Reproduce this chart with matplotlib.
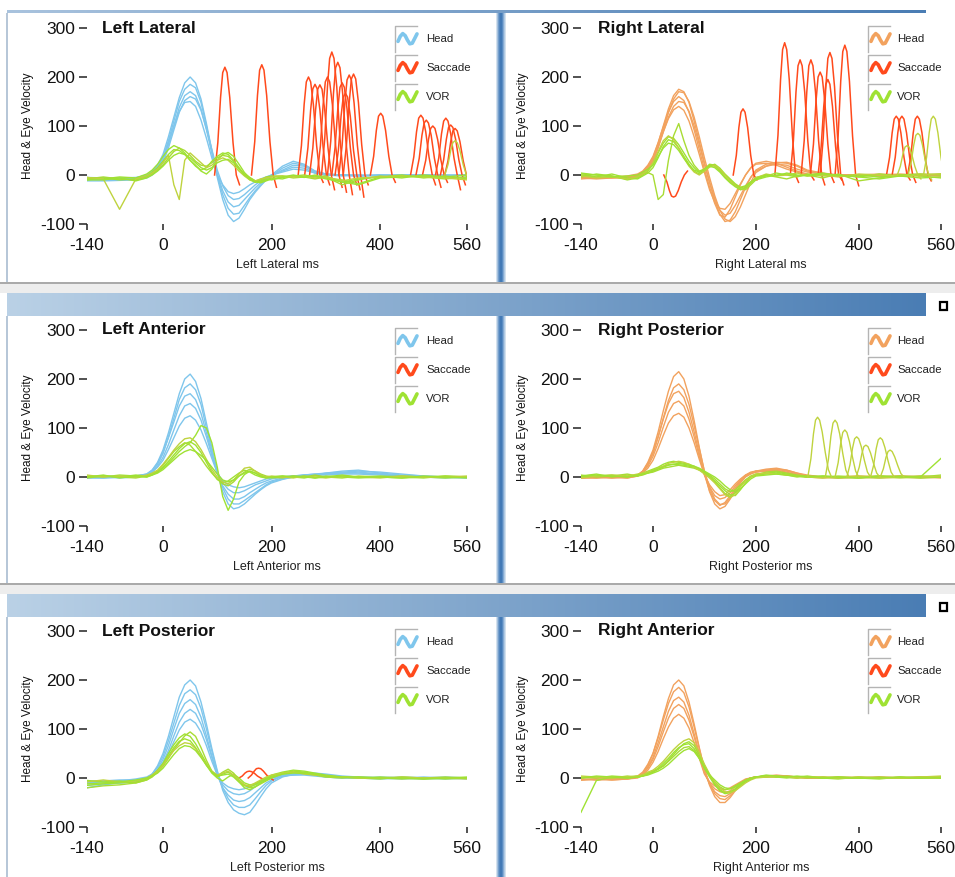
import numpy as np
import matplotlib
matplotlib.use("Agg")
import matplotlib.pyplot as plt
from matplotlib.patches import Rectangle

plt.rcParams['font.family'] = ['Liberation Sans', 'DejaVu Sans']
plt.rcParams['axes.unicode_minus'] = False

W, H = 955, 877

# ---------------- data ----------------
T_MS = [-140, -110, -80, -50, -30, -20, -10, 0, 10, 20, 30, 40, 50, 60, 70, 80, 90, 100,
        110, 120, 130, 140, 150, 160, 170, 180, 190, 200,
        220, 240, 260, 280, 300, 330, 360, 400, 440, 480, 520, 560]
SAC_DT = [0, 6, 11, 15, 19, 23, 28, 34, 40, 46]
X_TICKS = [-140, 0, 200, 400, 560]
Y_TICKS = [-100, 0, 100, 200, 300]
LEGEND_LABELS = ["Head", "Saccade", "VOR"]
TITLES = ["Left Lateral", "Right Lateral", "Left Anterior", "Right Posterior", "Left Posterior", "Right Anterior"]
XLABELS = ["Left Lateral ms", "Right Lateral ms", "Left Anterior ms", "Right Posterior ms", "Left Posterior ms", "Right Anterior ms"]

# Left Lateral
LL_HEAD = [
    [-8,-8,-9,-6,0,8,20, 42,78,118,158,188,200,188,155,105,50,-5, -50,-82,-95,-88,-70,-50,-35,-22,-10,0, 18,28,22,8,2,0,-2,0,-2,0,-2,0],
    [-10,-10,-9,-8,-2,5,16, 35,70,110,150,175,185,178,148,100,48,0, -40,-68,-80,-78,-62,-46,-32,-20,-10,-2, 14,24,20,8,2,0,-2,0,0,-2,0,0],
    [-6,-7,-8,-7,-3,4,14, 30,62,100,138,162,170,162,135,92,45,2, -32,-55,-65,-62,-50,-38,-26,-16,-8,-2, 10,20,18,6,0,-2,0,-2,0,0,-2,0],
    [-12,-12,-11,-10,-6,0,10, 25,55,92,128,152,160,155,132,95,52,10, -22,-42,-50,-48,-40,-30,-20,-12,-6,0, 8,16,14,4,0,0,-2,0,-2,0,0,-2],
    [-5,-6,-6,-5,-1,6,18, 36,66,100,130,148,150,140,112,75,35,0, -20,-34,-38,-35,-28,-20,-14,-8,-4,0, 6,12,10,4,0,0,0,-2,0,0,-2,0],
]
LL_VOR = [
    [-5,-8,-4,-6,2,10,22, 38,52,60,55,45,30,18,10,15,28,38, 45,42,30,15,0,-10,-15,-12,-8,-10, -5,-2,0,-4,-2,-15,-8,-4,0,-6,-2,-8],
    [-10,-6,-10,-8,-2,6,15, 28,42,52,50,42,30,20,8,2,12,30, 42,46,38,22,5,-6,-12,-14,-10,-6, -8,-2,-5,0,-6,-10,-18,-4,-2,-4,-8,-4],
    [-8,-4,-8,-10,-4,2,10, 20,35,48,55,50,40,28,20,18,25,35, 40,38,28,14,2,-5,-12,-10,-4,-2, -2,-6,-4,-8,-4,-20,-10,-2,-6,0,-4,-6],
    [-5,-8,-70,-8,-2,4,12, 25,40,-20,-50,30,45,35,25,15,20,30, 35,30,20,8,-2,-10,-12,-8,-6,-4, -2,-4,-2,-6,-4,-12,-6,-4,-2,-4,-6,-10],
    [-10,-10,-6,-12,-6,0,8, 18,30,40,45,42,35,25,15,10,15,25, 30,32,25,12,0,-8,-14,-16,-12,-8, -4,0,-4,-2,-8,-14,-20,-6,-4,-2,-4,0],
]
LL_SAC_ONSET = [95, 163, 249, 261, 270, 284, 292, 303, 311, 317, 324, 332, 382, 456, 466, 478, 502, 511, 519]
LL_SAC_VALS = [
    [0,66,158,209,220,209,158,66,0,-20], [0,68,162,214,225,214,162,68,0,-25],
    [0,60,144,190,200,190,144,60,0,-15], [0,56,133,176,185,176,133,56,0,-20],
    [0,55,132,175,184,175,132,55,0,-30], [0,60,144,190,200,190,144,60,0,-25],
    [0,75,181,238,251,238,181,75,0,-35], [0,69,166,219,230,219,166,69,0,-40],
    [0,56,135,179,188,179,135,56,0,-20], [0,50,120,159,167,159,120,50,0,-30],
    [0,61,147,194,204,194,147,61,0,-45], [0,62,148,196,206,196,148,62,0,-20],
    [0,38,91,120,126,120,91,38,0,-15], [0,37,88,116,122,116,88,37,0,-20],
    [0,34,81,106,112,106,81,34,0,-25], [0,30,72,95,100,95,72,30,0,-15],
    [0,35,84,110,116,110,84,35,0,-30], [0,31,73,97,102,97,73,31,0,-20],
    [0,29,68,90,95,90,68,29,0,-25],
]
LL_VSAC_ONSET = [519]
LL_VSAC_VALS = [[0,21,50,66,70,66,50,21,0,-10]]

# Right Lateral
RL_HEAD = [
    [-5,-4,-6,-4,0,6,18, 35,65,100,135,162,175,170,148,110,68,25, -15,-52,-80,-95,-92,-75,-50,-25,-5,10, 22,26,24,18,8,2,0,-2,0,2,0,-2],
    [-8,-6,-5,-6,-2,4,14, 30,58,92,128,155,170,168,150,118,78,35, -5,-42,-72,-90,-95,-85,-65,-40,-15,5, 18,25,26,20,10,4,0,0,-2,0,2,0],
    [-4,-6,-4,-2,2,8,20, 38,66,98,128,150,160,152,128,92,52,12, -25,-58,-82,-86,-70,-45,-20,0,15,24, 28,24,16,8,2,0,-2,0,0,-2,0,2],
    [-6,-8,-6,-4,-2,4,14, 28,55,88,118,140,150,148,130,100,62,22, -15,-48,-72,-82,-78,-62,-42,-22,-5,8, 18,22,20,12,6,2,0,0,-2,0,0,-2],
    [-3,-5,-4,-4,0,6,16, 32,58,88,115,133,140,132,110,78,42,5, -30,-55,-68,-70,-58,-38,-18,0,14,22, 24,20,12,6,0,0,-2,0,2,0,-2,0],
]
RL_VOR = [
    [0,-4,2,-6,-8,-2,4, 15,35,58,72,68,55,38,22,8,2,8, 18,22,14,2,-8,-18,-25,-22,-14,-8, -2,4,0,-4,2,-2,0,-4,2,-2,0,2],
    [-4,2,-2,-10,-6,0,8, 22,45,65,78,75,62,45,28,15,5,10, 20,18,8,-4,-14,-22,-28,-30,-20,-10, -4,0,2,-2,0,4,-2,0,-4,0,2,0],
    [2,0,-2,-8,-4,2,5, 0,-50,-40,30,80,105,70,40,20,8,12, 22,20,10,0,-10,-20,-26,-24,-15,-5, 0,-4,-8,-2,0,-6,2,-12,-6,0,-2,-6],
    [-2,-6,-4,-8,-4,2,10, 25,48,70,80,72,55,35,18,6,0,8, 16,20,12,0,-12,-22,-30,-28,-18,-6, 2,-2,0,4,-2,0,-4,2,0,-2,0,2],
    [4,0,-4,-2,0,6,12, 20,38,55,65,62,50,34,20,10,6,12, 18,15,6,-6,-16,-24,-30,-26,-16,-8, 0,-2,4,0,-2,2,0,-4,-8,-2,-6,-4],
]
RL_SAC_ONSET = [21, 156, 237, 267, 288, 306, 321, 325, 354, 454, 465, 495]
RL_SAC_VALS = [
    [0,-14,-32,-43,-45,-43,-32,-14,0,8], [0,40,97,128,135,128,97,40,0,-10],
    [0,81,194,256,270,256,194,81,0,-15], [0,70,169,223,235,223,169,70,0,-10],
    [0,70,169,223,235,223,169,70,0,-20], [0,63,151,200,210,200,151,63,0,-15],
    [0,58,140,185,195,185,140,58,0,-10], [0,75,180,238,250,238,180,75,0,-20],
    [0,80,191,252,265,252,191,80,0,-22], [0,36,86,114,120,114,86,36,0,-10],
    [0,36,86,114,120,114,86,36,0,-15], [0,36,86,114,120,114,86,36,0,-12],
]
RL_VSAC_ONSET = [475, 496, 526]
RL_VSAC_VALS = [[0,18,43,57,60,57,43,18,0,-8], [0,26,61,81,85,81,61,26,0,-10], [0,36,86,114,120,114,86,36,0,-10]]

# Left Anterior
LA_HEAD = [
    [0,-2,0,2,6,14,30, 55,90,130,170,200,210,195,160,110,60,10, -30,-55,-65,-62,-55,-45,-35,-26,-18,-12, -5,0,4,6,8,10,12,10,6,2,0,-2],
    [-2,-2,0,0,4,12,26, 48,82,120,158,182,190,178,148,100,55,12, -22,-45,-55,-55,-48,-40,-32,-24,-16,-10, -4,0,2,4,8,12,14,8,4,2,0,0],
    [0,2,0,2,6,14,28, 50,80,112,145,165,170,158,130,90,48,8, -18,-35,-45,-45,-40,-32,-25,-18,-12,-8, -2,2,4,6,6,8,10,6,2,0,-2,0],
    [-2,0,-2,0,4,10,22, 40,66,96,125,145,150,140,116,82,44,10, -12,-25,-32,-32,-28,-22,-16,-12,-8,-4, 0,2,4,4,6,8,8,6,2,0,0,-2],
    [0,0,2,0,4,10,20, 34,56,80,104,120,125,116,96,68,38,8, -8,-16,-20,-22,-20,-16,-12,-8,-4,-2, 0,2,2,4,4,6,6,4,2,0,0,0],
]
LA_VOR = [
    [2,0,4,2,0,4,10, 20,32,45,58,68,72,65,50,30,10,-5, -12,-8,0,8,14,10,4,0,-2,0, 2,0,-2,2,0,4,0,2,0,-2,2,0],
    [0,2,0,4,2,6,10, 18,28,40,52,62,70,85,105,100,70,20, -40,-68,-45,-10,5,12,8,2,0,-2, 0,2,0,-2,2,0,-2,0,2,0,-2,0],
    [-2,2,0,-2,2,6,12, 24,38,52,62,70,65,52,38,22,8,-4, -14,-18,-10,2,10,16,12,6,2,0, -2,2,0,4,0,-2,2,0,-2,0,2,0],
    [4,0,2,0,4,8,14, 26,40,55,68,78,80,72,56,36,15,0, -10,-14,-6,6,18,20,12,4,0,2, 0,-2,2,0,-2,2,0,-2,2,0,0,2],
    [0,4,-2,2,0,4,8, 15,25,35,45,52,56,52,44,34,20,6, -6,-10,-6,2,8,12,8,2,-2,0, 2,0,2,-2,0,2,0,0,-2,2,0,-2],
]
LA_SAC_ONSET = []
LA_SAC_VALS = []
LA_VSAC_ONSET = []
LA_VSAC_VALS = []

# Right Posterior
RP_HEAD = [
    [-2,0,-2,0,4,12,30, 55,92,135,175,205,215,200,165,115,60,10, -30,-55,-65,-60,-45,-28,-12,0,6,10, 14,16,14,8,4,0,-2,0,2,0,0,-2],
    [0,-2,0,-2,2,10,26, 48,82,120,156,182,190,178,148,105,58,12, -22,-45,-56,-55,-42,-26,-10,2,8,12, 16,18,14,8,2,0,0,-2,0,2,0,0],
    [-2,-2,0,0,4,12,28, 50,82,118,150,170,175,162,132,92,48,5, -28,-48,-58,-52,-38,-22,-8,2,8,12, 14,16,12,6,2,0,0,0,-2,0,2,0],
    [0,0,-2,0,4,10,22, 42,70,102,132,150,155,145,118,82,42,6, -20,-38,-45,-42,-32,-18,-6,4,10,12, 12,14,10,4,0,-2,0,2,0,0,-2,0],
    [-2,0,0,-2,2,8,18, 34,58,85,110,125,130,122,100,70,36,4, -16,-30,-38,-36,-26,-14,-4,4,8,10, 12,12,8,4,0,0,-2,0,0,2,0,0],
]
RP_VOR = [
    [2,6,0,4,2,6,10, 14,18,22,25,26,25,24,22,20,15,8, 0,-10,-22,-34,-40,-32,-18,-6,2,6, 8,10,6,2,0,2,0,-2,0,2,0,4],
    [0,2,4,0,4,8,12, 16,20,26,30,32,30,28,26,22,16,10, 2,-8,-18,-28,-36,-38,-26,-12,0,4, 6,8,4,0,2,0,-2,0,2,0,-2,0],
    [4,0,2,6,2,4,8, 10,14,18,20,22,24,22,20,18,14,10, 4,-4,-14,-24,-30,-26,-16,-6,0,4, 10,12,8,4,2,0,2,0,-2,0,2,0],
    [-2,2,4,2,6,8,10, 12,18,22,28,30,32,30,26,20,14,6, -2,-12,-24,-36,-42,-36,-20,-8,0,6, 8,6,4,2,0,-2,0,2,0,-2,0,2],
    [2,4,2,0,4,6,8, 12,16,20,24,26,28,26,24,22,18,12, 6,0,-8,-18,-26,-30,-24,-14,-4,2, 4,6,4,2,0,2,0,-2,2,0,0,38],
]
RP_SAC_ONSET = []
RP_SAC_VALS = []
RP_VSAC_ONSET = [301, 335, 354, 377, 395, 423, 442]
RP_VSAC_VALS = [
    [0,37,88,116,122,116,92,50,15,0], [0,35,84,110,116,110,88,48,14,0],
    [0,29,69,91,96,91,72,40,12,0], [0,25,59,78,82,78,62,34,10,0],
    [0,20,47,62,65,62,49,27,8,0], [0,24,58,76,80,76,60,33,10,0],
    [0,17,40,52,55,52,41,23,7,0],
]

# Left Posterior
LP_HEAD = [
    [-15,-12,-10,-8,-2,8,25, 50,85,125,165,190,200,188,155,110,60,15, -25,-50,-65,-72,-75,-70,-55,-38,-22,-10, 2,8,10,10,8,4,2,0,-2,0,2,0],
    [-10,-8,-8,-6,0,8,22, 44,76,112,148,172,180,170,142,100,55,12, -20,-42,-55,-60,-60,-55,-42,-28,-15,-6, 4,8,10,8,6,2,0,0,2,0,0,-2],
    [-20,-14,-10,-8,-2,6,18, 38,66,100,132,152,160,150,124,86,45,6, -20,-35,-45,-48,-46,-40,-30,-20,-10,-4, 4,6,8,8,4,2,0,-2,0,2,0,0],
    [-6,-6,-4,-4,0,6,16, 32,56,86,114,132,140,132,110,78,42,8, -14,-26,-32,-34,-32,-26,-18,-10,-4,0, 6,8,8,6,2,0,0,2,0,0,-2,0],
    [-8,-6,-6,-2,2,8,16, 30,50,74,98,114,120,112,94,66,34,6, -10,-18,-22,-24,-22,-18,-12,-6,-2,0, 4,6,6,4,2,0,2,0,0,-2,0,0],
]
LP_VOR = [
    [-5,-8,-6,-10,-4,4,16, 30,50,68,82,90,85,70,50,30,12,2, 8,12,4,-8,-16,-18,-14,-8,-2,4, 10,14,12,8,4,2,0,-2,2,0,-2,0],
    [-15,-12,-10,-8,-2,6,15, 28,45,62,75,80,76,62,45,26,10,0, -6,2,8,0,-10,-14,-12,-6,0,6, 12,16,14,10,6,2,0,2,0,-2,0,2],
    [-20,-16,-14,-10,-4,2,12, 24,40,58,72,86,94,85,62,36,14,4, 12,18,10,-4,-14,-20,-18,-12,-6,0, 8,12,10,6,2,0,2,0,-2,0,2,0],
    [-8,-4,-8,-6,0,6,14, 26,42,56,66,72,70,60,44,28,14,6, 10,14,6,-6,-14,-16,-10,-4,2,6, 10,12,8,6,4,2,0,0,2,0,0,-2],
    [-12,-10,-8,-4,0,4,10, 20,34,48,60,66,64,56,42,26,12,4, 6,8,2,-8,-20,-24,-18,-10,-4,2, 8,10,10,8,4,2,2,0,0,-2,0,0],
]
LP_SAC_ONSET = [140, 157]
LP_SAC_VALS = [[0,4,10,13,14,13,10,4,0,-3], [0,6,14,19,20,19,14,6,0,-4]]
LP_VSAC_ONSET = []
LP_VSAC_VALS = []

# Right Anterior
RA_HEAD = [
    [-4,-2,-4,-2,2,10,26, 50,85,125,162,190,200,188,155,110,62,18, -15,-38,-50,-50,-40,-26,-14,-6,0,2, 4,6,4,2,0,2,0,0,2,0,0,2],
    [-2,-4,-2,0,4,12,28, 50,82,118,152,176,185,174,145,104,60,18, -12,-32,-42,-44,-36,-24,-12,-4,0,2, 4,4,2,2,0,0,2,0,0,2,0,0],
    [-4,-2,-2,-2,2,8,22, 42,72,104,136,158,165,155,128,90,50,12, -12,-28,-36,-38,-32,-22,-12,-4,0,2, 2,4,4,2,0,0,0,2,0,0,2,0],
    [-2,-4,-2,0,2,8,20, 38,64,94,122,142,150,142,118,84,46,10, -10,-22,-28,-30,-26,-18,-10,-4,0,2, 4,4,2,0,2,0,0,0,2,0,0,2],
    [-4,-2,-4,-2,0,6,16, 32,54,80,104,122,130,122,102,72,40,8, -8,-16,-22,-24,-20,-14,-8,-2,0,2, 2,2,4,2,0,0,2,0,0,0,2,0],
]
RA_VOR = [
    [-70,-5,2,0,2,4,8, 12,18,26,36,48,60,70,74,66,48,26, 6,-12,-24,-30,-28,-22,-14,-6,0,2, 4,2,0,2,4,0,2,0,-2,2,0,2],
    [2,0,4,2,4,6,10, 14,20,30,40,52,62,68,70,60,42,20, 2,-14,-26,-32,-30,-24,-16,-8,-2,2, 2,4,2,0,2,0,-2,2,0,0,2,0],
    [0,2,0,4,2,4,8, 12,18,24,34,44,54,62,64,56,40,20, 4,-8,-18,-24,-22,-16,-10,-4,0,2, 4,2,4,2,0,2,0,0,2,0,0,2],
    [4,2,0,2,4,6,12, 16,24,34,46,58,68,76,80,72,52,28, 8,-8,-20,-28,-30,-26,-18,-10,-4,0, 2,4,2,0,2,2,0,2,0,0,2,4],
    [0,4,2,0,2,4,6, 10,14,20,28,38,48,56,60,54,40,22, 6,-4,-14,-20,-22,-18,-12,-6,-2,2, 6,4,2,4,2,0,2,0,0,2,0,0],
]
RA_SAC_ONSET = []
RA_SAC_VALS = []
RA_VSAC_ONSET = []
RA_VSAC_VALS = []

# ---------------- styling ----------------
BLUE = "#7fc6ec"
ORANGE = "#f2a25e"
RED = "#ff4a1c"
GREEN = "#9fe233"
OLIVE = "#bfd33e"
VOR_COLORS = [GREEN, GREEN, "#a8dc34", OLIVE, GREEN]

LEFT_X = (87, 467)
RIGHT_X = (581, 941)
ROWS_Y = [(28, 224), (330, 526), (631, 827)]

PANELS = [
    (LEFT_X, 0, LL_HEAD, BLUE, LL_VOR, LL_SAC_ONSET, LL_SAC_VALS, LL_VSAC_ONSET, LL_VSAC_VALS),
    (RIGHT_X, 0, RL_HEAD, ORANGE, RL_VOR, RL_SAC_ONSET, RL_SAC_VALS, RL_VSAC_ONSET, RL_VSAC_VALS),
    (LEFT_X, 1, LA_HEAD, BLUE, LA_VOR, LA_SAC_ONSET, LA_SAC_VALS, LA_VSAC_ONSET, LA_VSAC_VALS),
    (RIGHT_X, 1, RP_HEAD, ORANGE, RP_VOR, RP_SAC_ONSET, RP_SAC_VALS, RP_VSAC_ONSET, RP_VSAC_VALS),
    (LEFT_X, 2, LP_HEAD, BLUE, LP_VOR, LP_SAC_ONSET, LP_SAC_VALS, LP_VSAC_ONSET, LP_VSAC_VALS),
    (RIGHT_X, 2, RA_HEAD, ORANGE, RA_VOR, RA_SAC_ONSET, RA_SAC_VALS, RA_VSAC_ONSET, RA_VSAC_VALS),
]

# legend icon shape (decoration)
WAVE_X = [0, 0.12, 0.25, 0.38, 0.5, 0.62, 0.75, 0.88, 1.0]
WAVE_Y = [-0.4, 0.45, 0.9, 0.55, -0.2, -0.8, -0.7, 0.1, 0.85]

fig = plt.figure(figsize=(W / 100, H / 100), dpi=100)
fig.patch.set_facecolor("white")

# ---------- background / window chrome ----------
bg = fig.add_axes([0, 0, 1, 1])
bg.set_xlim(0, W)
bg.set_ylim(H, 0)
bg.axis("off")
bg.set_zorder(0)


def hgrad(x0, x1, y0, y1, c0, c1, n=256):
    a = np.array(matplotlib.colors.to_rgb(c0))
    b = np.array(matplotlib.colors.to_rgb(c1))
    f = np.linspace(0, 1, n)[None, :, None]
    img = a[None, None, :] * (1 - f) + b[None, None, :] * f
    bg.imshow(img, extent=(x0, x1, y1, y0), aspect="auto", interpolation="bilinear", zorder=2)


# gray gaps beneath rows 1 and 2
for ytop in (282, 583):
    bg.add_patch(Rectangle((0, ytop), W, 11, facecolor="#ededed", edgecolor="none", zorder=1))
    bg.add_patch(Rectangle((0, ytop), W, 2, facecolor="#aaaaaa", edgecolor="none", zorder=2))

# top line
hgrad(7, 925, 11, 13.5, "#a9c3de", "#4a7db4")
# bands
for ytop in (293, 594):
    hgrad(7, 925, ytop, ytop + 23, "#bad1e6", "#4a7db4")
    bg.add_patch(Rectangle((940, ytop + 8.5), 6.5, 8, facecolor="none", edgecolor="black", lw=1.6, zorder=3))

# left borders and vertical separators
SEP_COLS = ["#d4e1ee", "#9dbcdc", "#6996c8", "#4a80bb", "#3f76b2", "#4a80bb", "#7aa3cf", "#aac6e2", "#d4e1ee"]
for (yt, yb) in ((13, 282), (316, 583), (617, 877)):
    bg.add_patch(Rectangle((6, yt), 2.2, yb - yt, facecolor="#b7c7d8", edgecolor="none", zorder=2))
    img = np.array([matplotlib.colors.to_rgb(c) for c in SEP_COLS])[None, :, :]
    bg.imshow(img, extent=(496, 506, yb, yt), aspect="auto", interpolation="bilinear", zorder=2)


def px_axes(xr, yr):
    x0, x1 = xr
    yt, yb = yr
    return fig.add_axes([x0 / W, 1 - yb / H, (x1 - x0) / W, (yb - yt) / H])


for i, (xr, row, heads, hcol, vors, s_on, s_val, vs_on, vs_val) in enumerate(PANELS):
    yr = ROWS_Y[row]
    ax = px_axes(xr, yr)
    ax.set_zorder(5)
    ax.patch.set_alpha(0)
    ax.set_xlim(-140, 560)
    ax.set_ylim(-100, 300)
    for s in ax.spines.values():
        s.set_visible(False)
    ax.set_xticks(X_TICKS)
    ax.set_yticks(Y_TICKS)
    ax.set_xticklabels([str(v) for v in X_TICKS])
    ax.set_yticklabels([str(v) for v in Y_TICKS])
    ax.tick_params(axis="x", direction="out", length=4.5, width=1.1, color="#222222",
                   labelsize=12.5, pad=5.5, labelcolor="#111111")
    ax.tick_params(axis="y", direction="out", length=5.5, width=1.1, color="#222222",
                   labelsize=12.5, pad=3, labelcolor="#111111")

    for tr in heads:
        ax.plot(T_MS, tr, color=hcol, lw=1.0, zorder=2)
    for on, vals in zip(s_on, s_val):
        ax.plot(np.add(on, SAC_DT), vals, color=RED, lw=1.1, zorder=3)
    for k, tr in enumerate(vors):
        ax.plot(T_MS, tr, color=VOR_COLORS[k], lw=1.0, zorder=4)
    for on, vals in zip(vs_on, vs_val):
        ax.plot(np.add(on, SAC_DT), vals, color=OLIVE, lw=1.0, zorder=4)

    x0, x1 = xr
    yt, yb = yr
    fx = lambda p: (p - x0) / (x1 - x0)
    fy = lambda p: (yb - p) / (yb - yt)

    is_left = xr == LEFT_X
    title_dx = 15 if is_left else 17
    ax.text(fx(x0 + title_dx), fy(yt), TITLES[i], transform=ax.transAxes, fontsize=12.5,
            fontweight="bold", ha="left", va="center", color="#111111")
    ax.text(0.5, fy(yb + 41), XLABELS[i], transform=ax.transAxes, fontsize=9,
            ha="center", va="center", color="#222222")
    ylab_x = 28 if is_left else 523
    ax.text(fx(ylab_x), fy(yt + 98), "Head & Eye Velocity", transform=ax.transAxes, fontsize=8.5,
            rotation=90, ha="center", va="center", color="#111111")

    # legend
    icon_left = x0 + (308 if is_left else 287)
    text_x = x0 + (339 if is_left else 316)
    leg_cols = [hcol, RED, GREEN]
    for j, lab in enumerate(LEGEND_LABELS):
        cy = yt + 11 + 29 * j
        ax.plot([fx(icon_left), fx(icon_left), fx(icon_left + 22)],
                [fy(cy + 13), fy(cy - 13), fy(cy - 13)], transform=ax.transAxes,
                color="#b4b4b4", lw=1.0, clip_on=False, zorder=6)
        wx = [fx(icon_left + 3 + 19 * w) for w in WAVE_X]
        wy = [fy(cy - 6 * w) for w in WAVE_Y]
        ax.plot(wx, wy, transform=ax.transAxes, color=leg_cols[j], lw=2.6,
                solid_capstyle="round", solid_joinstyle="round", clip_on=False, zorder=6)
        ax.text(fx(text_x), fy(cy), lab, transform=ax.transAxes, fontsize=8.2,
                ha="left", va="center", color="#222222")

fig.savefig("out.png", dpi=100, facecolor=fig.get_facecolor())
